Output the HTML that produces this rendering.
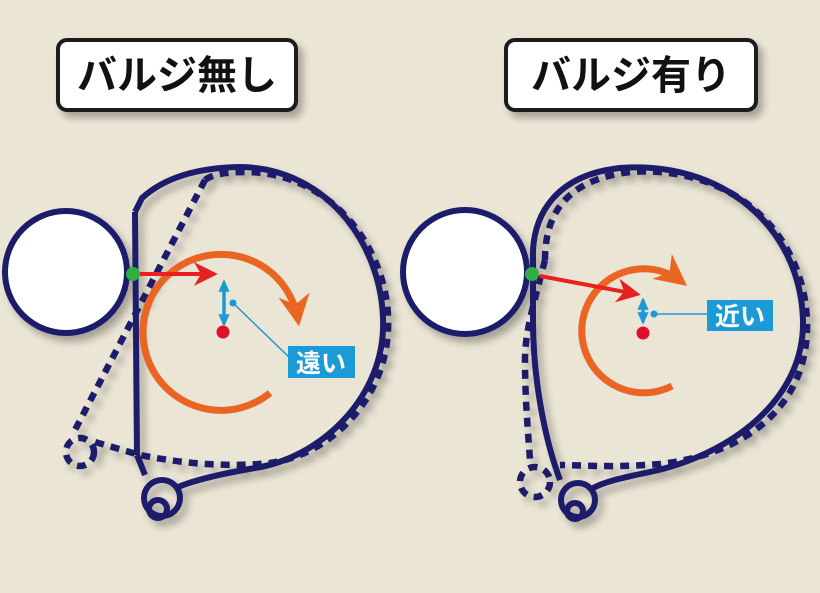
<!DOCTYPE html>
<html><head><meta charset="utf-8"><style>
html,body{margin:0;padding:0;background:#ebe5d5;}
svg{display:block}
text{font-family:"Liberation Sans","Noto Sans CJK JP",sans-serif;font-weight:bold}
</style></head><body>
<svg width="820" height="593" viewBox="0 0 820 593" xmlns="http://www.w3.org/2000/svg">
<defs>
<filter id="sh" x="-20%" y="-20%" width="140%" height="140%"><feGaussianBlur in="SourceAlpha" stdDeviation="4"/><feOffset dx="5" dy="6"/><feComponentTransfer><feFuncA type="linear" slope="0.3"/></feComponentTransfer><feMerge><feMergeNode/><feMergeNode in="SourceGraphic"/></feMerge></filter>
<marker id="ar" viewBox="0 0 10 10" refX="8" refY="5" markerWidth="6" markerHeight="6" orient="auto"><path d="M0,0 L10,5 L0,10 L3,5z" fill="#e8201f"/></marker>
<marker id="ao" viewBox="0 0 10 10" refX="8" refY="5" markerWidth="4.5" markerHeight="4.5" orient="auto"><path d="M0,0 L10,5 L0,10 L3,5z" fill="#ea6423"/></marker>
<marker id="ab" viewBox="0 0 10 10" refX="7" refY="5" markerWidth="4" markerHeight="4" orient="auto-start-reverse"><path d="M0,1 L9,5 L0,9z" fill="#1a9ad6"/></marker>
</defs>
<rect width="820" height="593" fill="#ebe5d5"/>

<g filter="url(#sh)">
<rect x="58" y="40" width="238" height="70" rx="9" fill="#fff" stroke="#1a1a1a" stroke-width="4"/>
<rect x="506" y="40" width="250" height="70" rx="9" fill="#fff" stroke="#1a1a1a" stroke-width="4"/>
</g>
<text x="177" y="89" font-size="40" text-anchor="middle" fill="#111">バルジ無し</text>
<text x="631" y="89" font-size="40" text-anchor="middle" fill="#111">バルジ有り</text>

<!-- LEFT -->
<g filter="url(#sh)" fill="none" stroke="#1c1f6b" stroke-width="6" stroke-linejoin="round">
<circle cx="66" cy="272" r="61" fill="#fff"/>
<path d="M135,212 L142,198 Q175,168 240,167 C330,168 386,250 383,330 C380,400 320,458 255,468 C220,474 195,480 178,487"/>
<path d="M137,455 L135,212"/>
<path d="M137,455 L145,475" />
<circle cx="162" cy="498" r="18"/>
<circle cx="158" cy="509" r="9"/>
<g stroke-dasharray="9,7" stroke-width="6.5">
<path d="M205,180 Q215,172 245,172 C335,172 392,255 388,330 C385,400 330,455 270,463 C220,468 175,462 140,455 L95,442"/>
<path d="M205,180 L75,430"/>
<circle cx="80" cy="452" r="14"/>
</g>
</g>
<g fill="none">
<path d="M270,393 A78,78 0 1 1 298,320" stroke="#ea6423" stroke-width="7" marker-end="url(#ao)"/>
<line x1="140" y1="274" x2="213" y2="274" stroke="#e8201f" stroke-width="4" marker-end="url(#ar)"/>
<line x1="224" y1="282" x2="224" y2="324" stroke="#1a9ad6" stroke-width="3.5" marker-start="url(#ab)" marker-end="url(#ab)"/>
<line x1="233" y1="303" x2="292" y2="360" stroke="#1a9ad6" stroke-width="1.5"/>
</g>
<circle cx="223" cy="332" r="6.5" fill="#e0102a"/>
<circle cx="233" cy="303" r="3.5" fill="#1a9ad6"/>
<circle cx="133" cy="274" r="7" fill="#2eae45"/>
<rect x="288" y="346" width="67" height="32" fill="#1a9ad6"/>
<text x="321" y="372" font-size="25" text-anchor="middle" fill="#fff">遠い</text>

<!-- RIGHT -->
<g filter="url(#sh)" fill="none" stroke="#1c1f6b" stroke-width="6" stroke-linejoin="round">
<circle cx="465" cy="272" r="62" fill="#fff"/>
<path d="M533,320 L533,250 C535,215 555,175 620,168 C720,160 800,225 803,320 C805,400 730,455 650,472 C620,478 600,483 590,490"/>
<path d="M533,320 C533,380 545,440 560,480"/>
<circle cx="578" cy="500" r="17"/>
<circle cx="575" cy="511" r="8"/>
<g stroke-dasharray="9,7" stroke-width="6.5">
<path d="M545,260 C545,215 565,180 630,172 C730,165 803,230 807,320 C810,410 740,455 660,464 C610,468 580,465 560,465"/>
<path d="M545,260 C535,300 525,330 525,360 C525,400 528,430 530,460"/>
<circle cx="535" cy="482" r="15"/>
</g>
</g>
<g fill="none">
<path d="M672,386 A62,62 0 1 1 682,282" stroke="#ea6423" stroke-width="7" marker-end="url(#ao)"/>
<line x1="540" y1="276" x2="636" y2="294" stroke="#e8201f" stroke-width="4" marker-end="url(#ar)"/>
<line x1="643" y1="300" x2="643" y2="322" stroke="#1a9ad6" stroke-width="3.5" marker-start="url(#ab)" marker-end="url(#ab)"/>
<line x1="654" y1="314" x2="708" y2="314" stroke="#1a9ad6" stroke-width="1.5"/>
</g>
<circle cx="643" cy="333" r="6.5" fill="#e0102a"/>
<circle cx="654" cy="314" r="3.5" fill="#1a9ad6"/>
<circle cx="532" cy="274" r="7" fill="#2eae45"/>
<rect x="707" y="300" width="66" height="31" fill="#1a9ad6"/>
<text x="740" y="325" font-size="25" text-anchor="middle" fill="#fff">近い</text>
</svg>
</body></html>
